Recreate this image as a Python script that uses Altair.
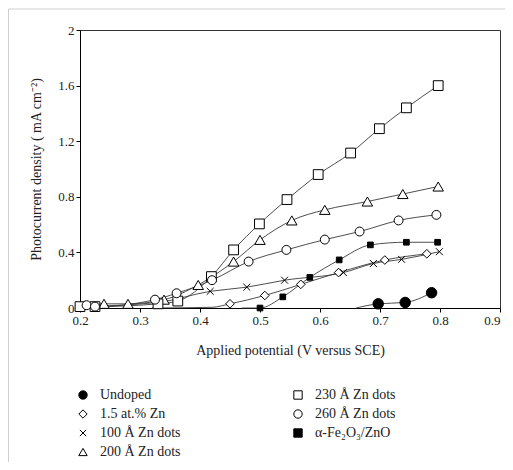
import altair as alt
import pandas as pd

# ---- data ----
legend_order = ["Undoped", "1.5 at.% Zn", "100 Å Zn dots", "200 Å Zn dots",
                "230 Å Zn dots", "260 Å Zn dots", "α-Fe₂O₃/ZnO"]

undoped_x = [0.697, 0.742, 0.786]
undoped_y = [0.03, 0.04, 0.11]
undoped_lead_x = [0.66]
undoped_lead_y = [0.0]

diamond_x = [0.45, 0.508, 0.568, 0.631, 0.708, 0.778]
diamond_y = [0.03, 0.09, 0.17, 0.255, 0.345, 0.39]
diamond_lead_x = [0.32, 0.42]
diamond_lead_y = [0.0, 0.005]

cross_x = [0.417, 0.478, 0.541, 0.639, 0.689, 0.736, 0.799]
cross_y = [0.12, 0.15, 0.2, 0.255, 0.32, 0.35, 0.405]
cross_lead_x = [0.2, 0.33]
cross_lead_y = [0.01, 0.04]

tri_x = [0.24, 0.28, 0.34, 0.397, 0.456, 0.5, 0.553, 0.608, 0.679, 0.738, 0.797]
tri_y = [0.03, 0.03, 0.06, 0.166, 0.334, 0.49, 0.63, 0.706, 0.766, 0.82, 0.874]
tri_lead_x = [0.2]
tri_lead_y = [0.02]

sq_x = [0.2, 0.225, 0.33, 0.363, 0.419, 0.456, 0.499, 0.545, 0.597, 0.651, 0.699, 0.744, 0.797]
sq_y = [0.01, 0.01, 0.03, 0.05, 0.226, 0.418, 0.605, 0.78, 0.96, 1.115, 1.29, 1.44, 1.6]

circ_x = [0.211, 0.225, 0.325, 0.361, 0.42, 0.481, 0.544, 0.608, 0.666, 0.731, 0.794]
circ_y = [0.02, 0.01, 0.06, 0.106, 0.2, 0.334, 0.418, 0.492, 0.55, 0.63, 0.67]

fe_x = [0.5, 0.538, 0.583, 0.632, 0.684, 0.744, 0.796]
fe_y = [0.0, 0.08, 0.22, 0.346, 0.454, 0.473, 0.473]
fe_lead_x = [0.47]
fe_lead_y = [0.0]

markers = {
    "Undoped": (undoped_x, undoped_y),
    "1.5 at.% Zn": (diamond_x, diamond_y),
    "100 Å Zn dots": (cross_x, cross_y),
    "200 Å Zn dots": (tri_x, tri_y),
    "230 Å Zn dots": (sq_x, sq_y),
    "260 Å Zn dots": (circ_x, circ_y),
    "α-Fe₂O₃/ZnO": (fe_x, fe_y),
}
leads = {
    "Undoped": (undoped_lead_x, undoped_lead_y),
    "1.5 at.% Zn": (diamond_lead_x, diamond_lead_y),
    "100 Å Zn dots": (cross_lead_x, cross_lead_y),
    "200 Å Zn dots": (tri_lead_x, tri_lead_y),
    "α-Fe₂O₃/ZnO": (fe_lead_x, fe_lead_y),
}

shapes = ["circle", "diamond", "M-0.75,-0.75L0.75,0.75M-0.75,0.75L0.75,-0.75",
          "triangle-up", "square", "circle", "square"]
fills = ["black", "white", "white", "white", "white", "white", "black"]
strokes = ["black"] * 7
marker_sizes = [110, 75, 85, 110, 95, 80, 32]
size_of = dict(zip(legend_order, marker_sizes))

pts_rows, line_rows = [], []
for name, (xs, ys) in markers.items():
    for x, y in zip(xs, ys):
        pts_rows.append({"series": name, "x": x, "y": y, "sz": size_of[name]})
        line_rows.append({"series": name, "x": x, "y": y})
for name, (xs, ys) in leads.items():
    for x, y in zip(xs, ys):
        line_rows.append({"series": name, "x": x, "y": y})
df_pts = pd.DataFrame(pts_rows)
df_line = pd.DataFrame(line_rows).sort_values(["series", "x"])

FONT = "Liberation Serif, Times New Roman, serif"

xenc = alt.X("x:Q", scale=alt.Scale(domain=[0.2, 0.9], nice=False, zero=False),
             axis=alt.Axis(title="Applied potential (V versus SCE)",
                           values=[0.2, 0.3, 0.4, 0.5, 0.6, 0.7, 0.8, 0.9],
                           format=".1f", titlePadding=16, labelFlush=False,
                           labelAlign={"condition": {"test": "datum.value >= 0.89", "value": "right"},
                                       "value": "center"}))
yenc = alt.Y("y:Q", scale=alt.Scale(domain=[0, 2], nice=False),
             axis=alt.Axis(title="Photocurrent density ( mA cm⁻²)",
                           values=[0, 0.4, 0.8, 1.2, 1.6, 2], labelFlush=False,
                           labelExpr="datum.value == 0 ? '0' : datum.value == 2 ? '2' : format(datum.value, '.1f')",
                           titlePadding=14))

lines = alt.Chart(df_line).mark_line(color="#3a3a3a", strokeWidth=0.9, interpolate="monotone").encode(
    x=xenc, y=yenc, detail="series:N")

leg = alt.Legend(orient="none", legendX=-4, legendY=358, columns=2, columnPadding=110,
                 rowPadding=5, labelFont=FONT, labelFontSize=14, labelColor="#222",
                 symbolStrokeColor="black", symbolStrokeWidth=1, symbolSize=70,
                 labelOffset=10, title=None)

points = alt.Chart(df_pts).mark_point(strokeWidth=1, opacity=1, filled=True).encode(
    x="x:Q", y="y:Q",
    shape=alt.Shape("series:N", scale=alt.Scale(domain=legend_order, range=shapes), legend=leg),
    fill=alt.Fill("series:N", scale=alt.Scale(domain=legend_order, range=fills), legend=leg),
    stroke=alt.Stroke("series:N", scale=alt.Scale(domain=legend_order, range=strokes), legend=leg),
    size=alt.Size("sz:Q", scale=None, legend=None),
)

frame_df = pd.DataFrame({"a": [0]})
frame_top = alt.Chart(frame_df).mark_rule(color="#cfcfcf", strokeWidth=1).encode(
    x=alt.value(-71.5), x2=alt.value(430), y=alt.value(-21))
frame_left = alt.Chart(frame_df).mark_rule(color="#cfcfcf", strokeWidth=1).encode(
    x=alt.value(-71.5), y=alt.value(-21), y2=alt.value(440))

chart = alt.layer(frame_top, frame_left, lines, points).properties(
    width=420, height=278,
    autosize=alt.AutoSizeParams(type="none"),
    padding={"left": 72, "top": 22, "right": 5, "bottom": 154},
).configure_view(stroke="#333", strokeWidth=1).configure_axis(
    grid=False, domainColor="black", tickColor="black", tickSize=4,
    labelFont=FONT, labelFontSize=13, labelColor="#222",
    titleFont=FONT, titleFontSize=14, titleFontWeight="normal", titleColor="#222",
)

chart.save("out.html", embed_options={"renderer": "svg", "actions": False})
